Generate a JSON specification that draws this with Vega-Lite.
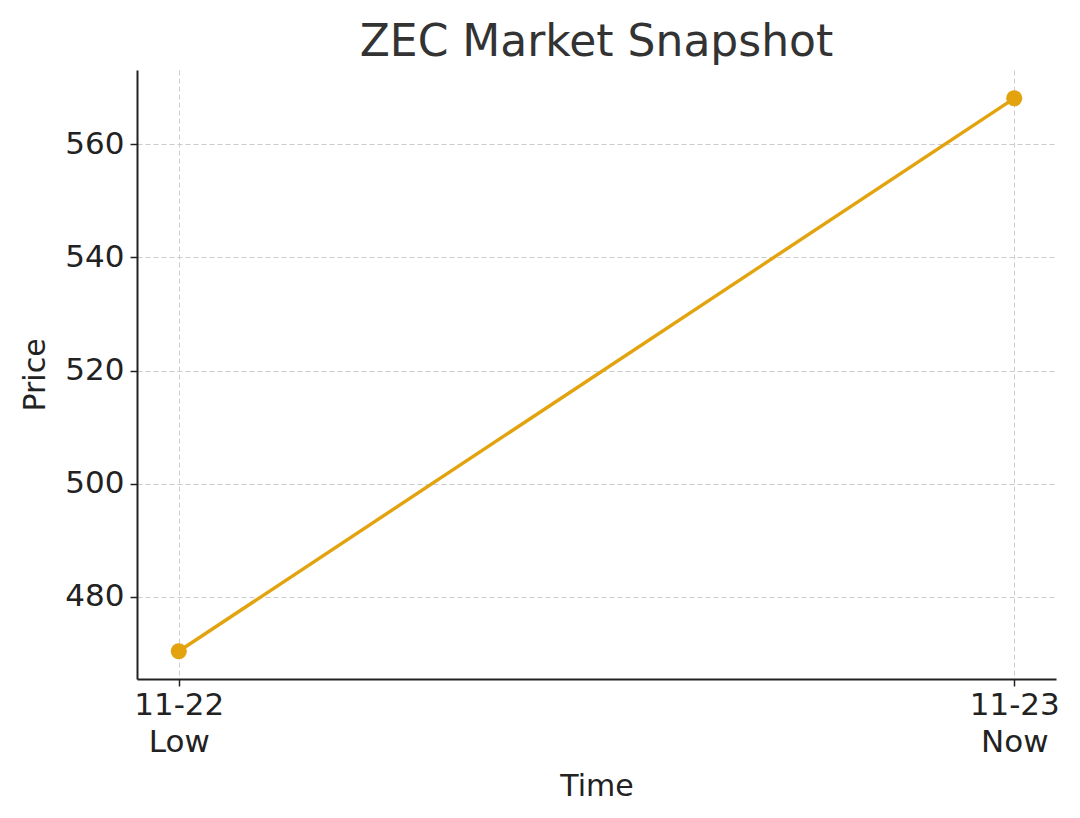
{
  "$schema": "https://vega.github.io/schema/vega-lite/v6.json",
  "width": 919,
  "height": 609,
  "autosize": {"type": "none"},
  "padding": {"left": 137, "top": 70, "right": 24, "bottom": 139},
  "background": "white",
  "config": {
    "view": {"stroke": null},
    "font": "DejaVu Sans",
    "axis": {
      "domainColor": "#222222",
      "domainWidth": 2,
      "tickColor": "#222222",
      "tickWidth": 1.5,
      "tickSize": 7,
      "labelColor": "#222222",
      "labelFont": "DejaVu Sans",
      "labelFontSize": 31,
      "titleFont": "DejaVu Sans",
      "titleFontSize": 30,
      "titleFontWeight": "normal",
      "titleColor": "#222222",
      "gridColor": "#cccccc",
      "gridDash": [5, 3],
      "gridWidth": 1
    }
  },
  "title": {
    "text": "ZEC Market Snapshot",
    "fontSize": 44,
    "font": "DejaVu Sans",
    "fontWeight": "normal",
    "color": "#333333",
    "anchor": "middle",
    "offset": 5
  },
  "data": {
    "values": [
      {"pos": 0, "label": "11-22 Low", "price": 470.4},
      {"pos": 1, "label": "11-23 Now", "price": 568.1}
    ]
  },
  "encoding": {
    "x": {
      "field": "pos",
      "type": "quantitative",
      "scale": {"domain": [-0.05, 1.05], "nice": false, "zero": false},
      "axis": {
        "values": [0, 1],
        "title": "Time",
        "titlePadding": 14,
        "labelPadding": 4,
        "labelLineHeight": 37,
        "labelBaseline": "top",
        "labelExpr": "datum.value == 0 ? ['11-22', 'Low'] : ['11-23', 'Now']",
        "labelFlush": false,
        "grid": true
      }
    },
    "y": {
      "field": "price",
      "type": "quantitative",
      "scale": {"domain": [465.5, 573.1], "nice": false, "zero": false},
      "axis": {
        "values": [480, 500, 520, 540, 560],
        "title": "Price",
        "titlePadding": 14,
        "labelPadding": 6,
        "grid": true
      }
    }
  },
  "layer": [
    {"mark": {"type": "line", "color": "#E2A30E", "strokeWidth": 3.4}},
    {"mark": {"type": "point", "filled": true, "color": "#E2A30E", "opacity": 1, "size": 260}}
  ]
}
